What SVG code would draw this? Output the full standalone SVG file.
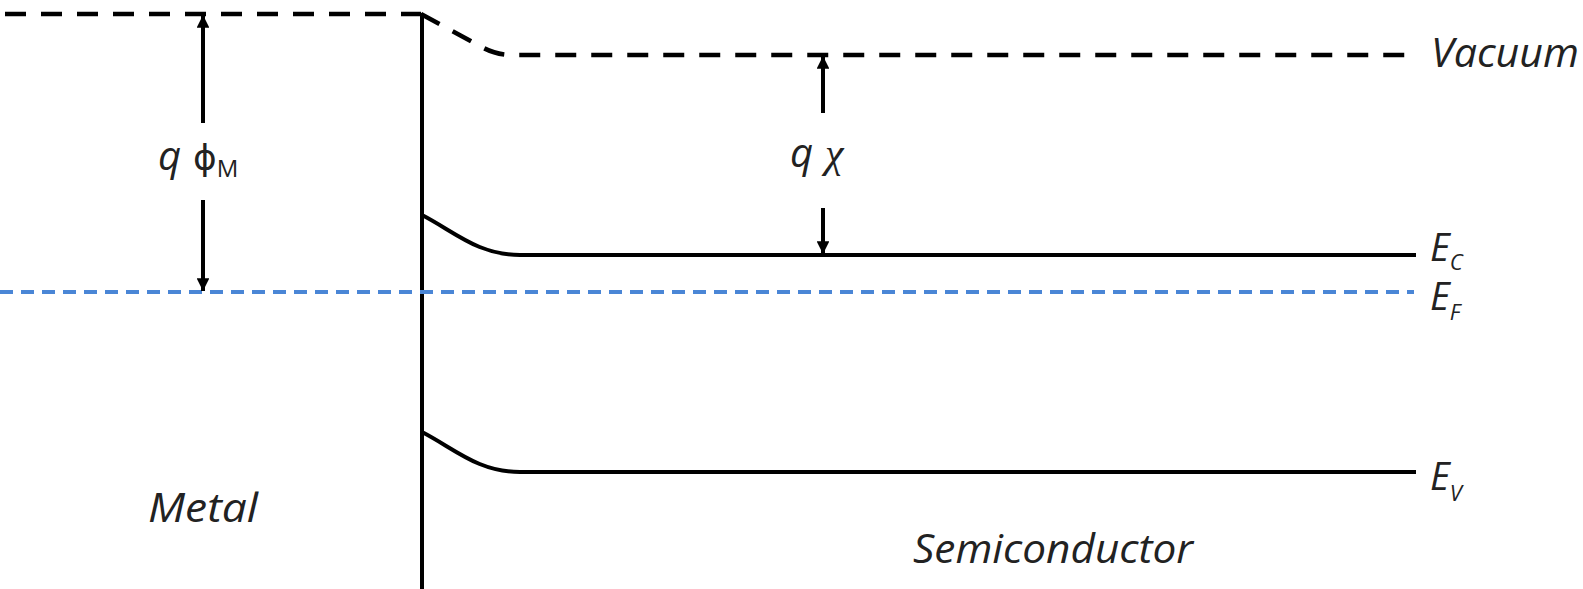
<svg xmlns="http://www.w3.org/2000/svg" width="1583" height="589" viewBox="0 0 1583 589">
<style>
.solid{fill:none;stroke:#000;stroke-width:4}
.dash{fill:none;stroke:#000;stroke-width:4.5;stroke-dasharray:21 15}
.fermi{fill:none;stroke:#4a86d6;stroke-width:4;stroke-dasharray:13 8}
.arr{fill:none;stroke:#000;stroke-width:4}
.lbl{font-family:"Open Sans","Liberation Sans",sans-serif;font-style:italic;font-size:40px;fill:#222}
.elbl{font-family:"Open Sans","Liberation Sans",sans-serif;font-style:italic;font-size:38px;fill:#222}
.sub{font-family:"Open Sans","Liberation Sans",sans-serif;font-style:italic;font-size:22px;fill:#222}
.phi{font-family:"DejaVu Sans",sans-serif;font-size:36px;fill:#222}
.chi{font-family:"Liberation Serif","DejaVu Serif",serif;font-style:italic;font-size:42px;fill:#222}
.subu{font-family:"Open Sans","Liberation Sans",sans-serif;font-size:24px;fill:#222}
</style>
<defs>
<marker id="ah" viewBox="0 0 10 10" refX="10" refY="5" markerWidth="3.2" markerHeight="3.2" markerUnits="strokeWidth" orient="auto">
<path d="M0,0 L10,5 L0,10 z" fill="#000"/>
</marker>
</defs>
<g id="levels">
<path id="vacuum-metal" class="dash" d="M5,14 L421,14"/>
<path id="vacuum-semi" class="dash" d="M421,14 L480,46 Q495,55 512,55 L1418,55"/>
<path id="interface" class="solid" d="M422,13 L422,589"/>
<path id="fermi" class="fermi" d="M0,292 L1414,292"/>
<path id="ec" class="solid" d="M422,215 C455,232 478,255 520,255 L1416,255"/>
<path id="ev" class="solid" d="M422,432 C455,449 478,472 520,472 L1416,472"/>
</g>
<g id="connectors">
<path class="arr" d="M203,123 L203,15" marker-end="url(#ah)"/>
<path class="arr" d="M203,200 L203,291" marker-end="url(#ah)"/>
<path class="arr" d="M823,113 L823,56" marker-end="url(#ah)"/>
<path class="arr" d="M823,208 L823,254" marker-end="url(#ah)"/>
</g>
<g id="label-phiM">
<text x="158" y="170"><tspan class="lbl">q</tspan><tspan class="phi" dx="12">ϕ</tspan><tspan class="subu" dy="7">M</tspan></text>
</g>
<g id="label-chi">
<text x="790" y="167"><tspan class="lbl">q</tspan><tspan class="chi" dx="12">χ</tspan></text>
</g>
<g id="label-vacuum"><text class="lbl" x="1431" y="67" textLength="148" lengthAdjust="spacingAndGlyphs">Vacuum</text></g>
<g id="label-ec"><text x="1430" y="261"><tspan class="elbl">E</tspan><tspan class="sub" dy="9">C</tspan></text></g>
<g id="label-ef"><text x="1430" y="310"><tspan class="elbl">E</tspan><tspan class="sub" dy="10">F</tspan></text></g>
<g id="label-ev"><text x="1430" y="490"><tspan class="elbl">E</tspan><tspan class="sub" dy="11">V</tspan></text></g>
<g id="label-metal"><text class="lbl" x="148" y="522" textLength="110" lengthAdjust="spacingAndGlyphs">Metal</text></g>
<g id="label-semi"><text class="lbl" x="913" y="563" textLength="280" lengthAdjust="spacingAndGlyphs">Semiconductor</text></g>
</svg>
